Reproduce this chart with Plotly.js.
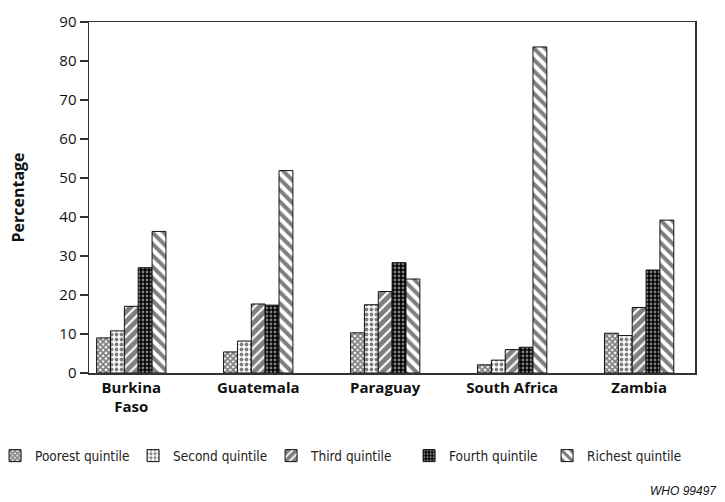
<!DOCTYPE html>
<html>
<head>
<meta charset="utf-8">
<script src="https://cdn.plot.ly/plotly-3.0.1.min.js"></script>
<style>html,body{margin:0;padding:0;background:#fff;}#chart{width:725px;height:502px;}</style>
</head>
<body>
<div id="chart"></div>
<script>
const countries = ["Burkina<br>Faso", "Guatemala", "Paraguay", "South Africa", "Zambia"];
const seriesNames = ["Poorest quintile", "Second quintile", "Third quintile", "Fourth quintile", "Richest quintile"];
const poorest = [9.0, 5.4, 10.3, 2.1, 10.2];
const second = [10.8, 8.2, 17.5, 3.3, 9.6];
const third = [17.1, 17.7, 20.9, 6.0, 16.8];
const fourth = [27.0, 17.4, 28.3, 6.6, 26.4];
const richest = [36.3, 51.9, 24.1, 83.6, 39.2];
const yTicks = [0, 10, 20, 30, 40, 50, 60, 70, 80, 90];

const values = [poorest, second, third, fourth, richest];
const patterns = [
  {shape: "x", fgcolor: "#000", bgcolor: "#fff", size: 4, solidity: 0.7, fillmode: "overlay"},
  {shape: ".", fgcolor: "#000", bgcolor: "#fff", size: 5, solidity: 0.45, fillmode: "overlay"},
  {shape: "/", fgcolor: "#000", bgcolor: "#fff", size: 7, solidity: 0.7, fillmode: "overlay"},
  {shape: ".", fgcolor: "#fff", bgcolor: "#000", size: 4, solidity: 0.4, fillmode: "overlay"},
  {shape: "\\", fgcolor: "#000", bgcolor: "#fff", size: 8, solidity: 0.5, fillmode: "overlay"}
];
const baseColors = ["#fff", "#fff", "#fff", "#000", "#fff"];

const traces = values.map((v, i) => ({
  type: "bar",
  name: seriesNames[i],
  x: countries,
  y: v,
  marker: {color: baseColors[i], pattern: patterns[i], line: {color: "#111", width: 1}},
  hoverinfo: "y+name"
}));

const layout = {
  width: 725, height: 502,
  margin: {l: 89, r: 30, t: 22, b: 129, autoexpand: false},
  paper_bgcolor: "#fff", plot_bgcolor: "#fff",
  barmode: "group", bargap: 0.454, bargroupgap: 0,
  font: {family: "Open Sans, sans-serif", color: "#111", size: 14},
  xaxis: {
    type: "category",
    range: [-0.333, 4.44],
    showline: true, linecolor: "#333", linewidth: 1.5, mirror: true,
    ticks: "", showgrid: false, zeroline: false,
    tickfont: {family: "Open Sans, sans-serif", size: 15, color: "#111", weight: "bold"}
  },
  yaxis: {
    range: [0, 90], tickvals: yTicks,
    showline: true, linecolor: "#333", linewidth: 1.5, mirror: true,
    ticks: "outside", ticklen: 8, tickcolor: "#333", tickwidth: 1.2,
    showgrid: false, zeroline: false,
    tickfont: {family: "Open Sans, sans-serif", size: 15, color: "#111"},
    title: {text: "Percentage", standoff: 30, font: {family: "Open Sans, sans-serif", size: 16, color: "#111", weight: "bold"}}
  },
  legend: {
    orientation: "h", x: -0.155, xanchor: "left", y: -0.236, yanchor: "middle",
    font: {family: "DejaVu Sans Condensed, sans-serif", size: 13.5, color: "#222"},
    entrywidth: 93, entrywidthmode: "pixels", traceorder: "normal"
  },
  annotations: [{
    text: "WHO 99497", xref: "paper", yref: "paper", x: 1.04, y: -0.335, xanchor: "right", yanchor: "middle",
    showarrow: false, font: {family: "Liberation Sans, Arial, sans-serif", size: 12, style: "italic", color: "#111"}
  }]
};

Plotly.newPlot("chart", traces, layout, {displayModeBar: false, staticPlot: true});
</script>
</body>
</html>
